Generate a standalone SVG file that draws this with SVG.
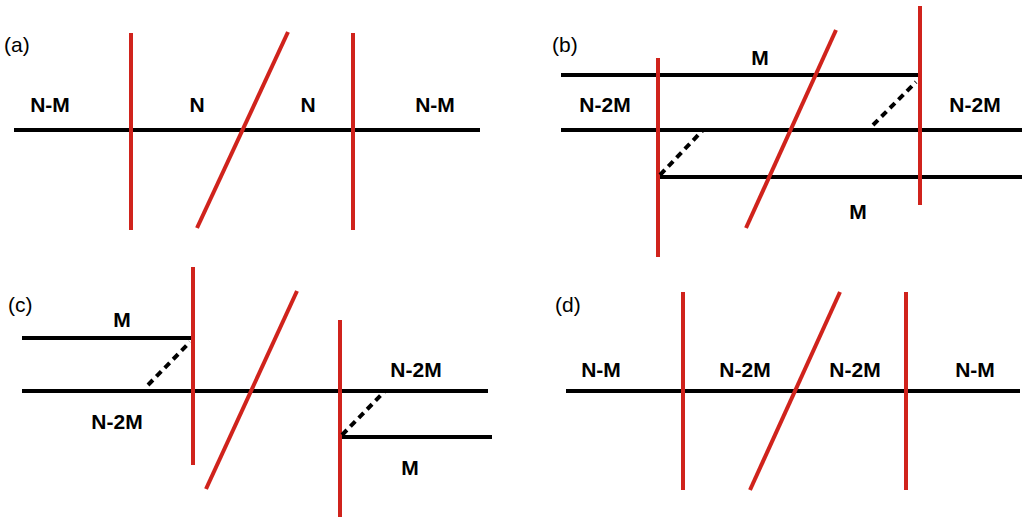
<svg xmlns="http://www.w3.org/2000/svg" width="1024" height="520" viewBox="0 0 1024 520">
<style>
.b{stroke:#000;stroke-width:4;fill:none}
.r{stroke:#d0231c;stroke-width:4;fill:none}
.d{stroke:#000;stroke-width:4;stroke-dasharray:7,5;fill:none}
text{font-family:"Liberation Sans",Arial,sans-serif;font-size:21px;fill:#000}
.l{font-weight:bold;text-anchor:middle}
</style>
<rect width="1024" height="520" fill="#fff"/>
<g id="connectors">
<line class="b" x1="14" y1="130" x2="480" y2="130"/>
<line class="r" x1="131" y1="33" x2="131" y2="230"/>
<line class="r" x1="353" y1="33" x2="353" y2="230"/>
<line class="r" x1="288" y1="32" x2="197" y2="228"/>
<line class="b" x1="561" y1="75" x2="920" y2="75"/>
<line class="b" x1="561" y1="130" x2="1022" y2="130"/>
<line class="b" x1="660" y1="177" x2="1022" y2="177"/>
<line class="r" x1="658" y1="58" x2="658" y2="257"/>
<line class="r" x1="920" y1="6" x2="920" y2="205"/>
<line class="r" x1="836" y1="30" x2="746" y2="228"/>
<line class="d" x1="660" y1="175" x2="703" y2="130"/>
<line class="d" x1="873" y1="125" x2="916" y2="82"/>
<line class="b" x1="22" y1="338" x2="192" y2="338"/>
<line class="b" x1="22" y1="391" x2="488" y2="391"/>
<line class="b" x1="340" y1="437" x2="492" y2="437"/>
<line class="r" x1="193" y1="267" x2="193" y2="465"/>
<line class="r" x1="340" y1="320" x2="340" y2="517"/>
<line class="r" x1="297" y1="291" x2="206" y2="489"/>
<line class="d" x1="148" y1="385" x2="190" y2="342"/>
<line class="d" x1="342" y1="435" x2="385" y2="391"/>
<line class="b" x1="566" y1="391" x2="1020" y2="391"/>
<line class="r" x1="683" y1="292" x2="683" y2="490"/>
<line class="r" x1="906" y1="292" x2="906" y2="490"/>
<line class="r" x1="840" y1="292" x2="750" y2="490"/>
</g>
<g id="labels">
<text x="4" y="52">(a)</text>
<text x="552" y="52">(b)</text>
<text x="8" y="312">(c)</text>
<text x="555" y="312">(d)</text>
<text class="l" x="50" y="112">N-M</text>
<text class="l" x="197" y="112">N</text>
<text class="l" x="308" y="112">N</text>
<text class="l" x="435" y="112">N-M</text>
<text class="l" x="760" y="65">M</text>
<text class="l" x="605" y="112">N-2M</text>
<text class="l" x="975" y="112">N-2M</text>
<text class="l" x="858" y="219">M</text>
<text class="l" x="122" y="327">M</text>
<text class="l" x="117" y="429">N-2M</text>
<text class="l" x="416" y="377">N-2M</text>
<text class="l" x="410" y="475">M</text>
<text class="l" x="601" y="377">N-M</text>
<text class="l" x="745" y="377">N-2M</text>
<text class="l" x="855" y="377">N-2M</text>
<text class="l" x="975" y="377">N-M</text>
</g>
</svg>
